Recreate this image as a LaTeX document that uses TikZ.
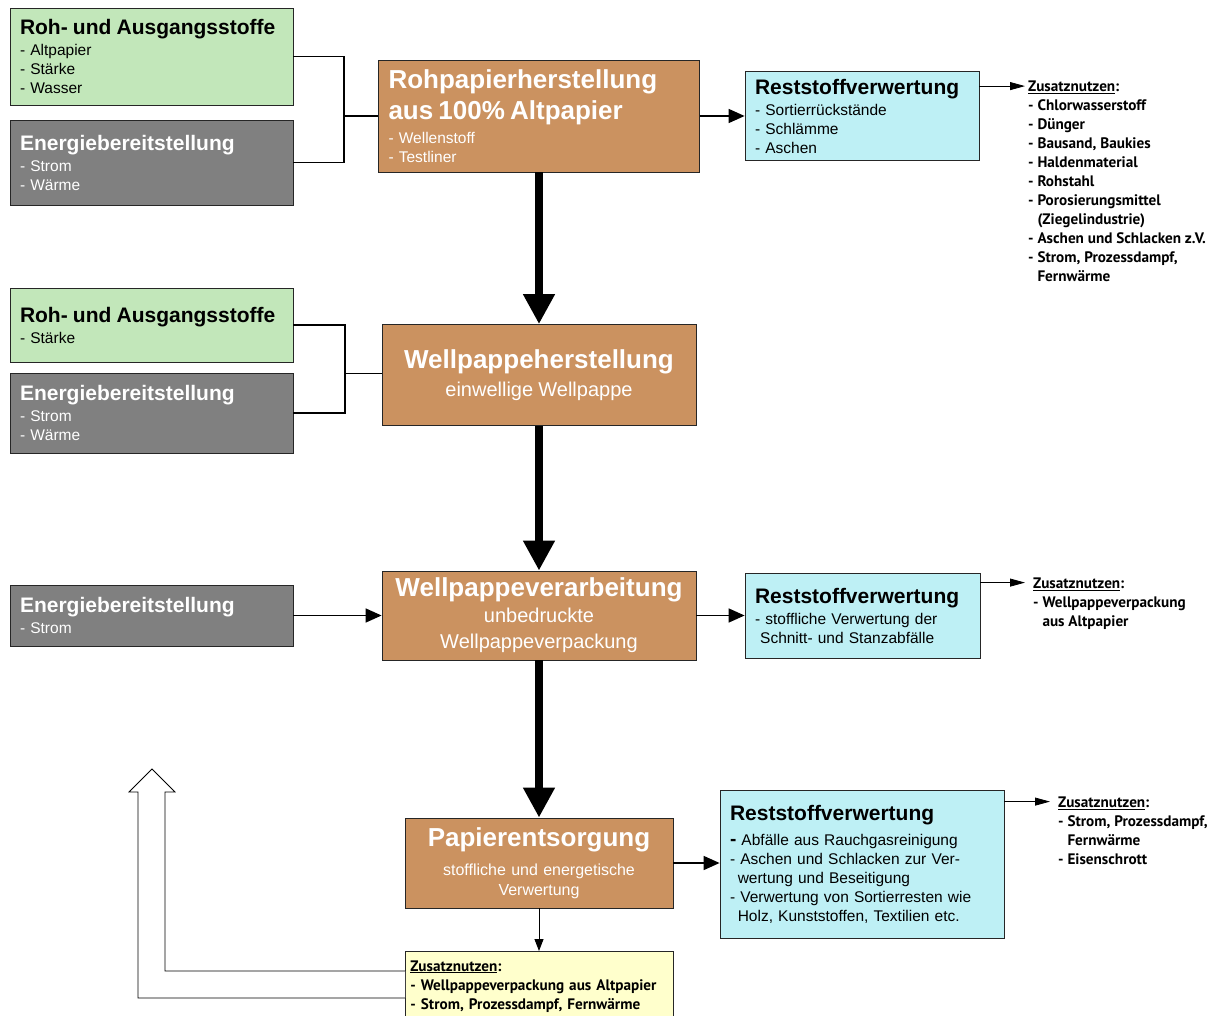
\documentclass[tikz,border=0pt]{standalone}
\usepackage{fontspec}
\setmainfont{Liberation Sans}
\newfontfamily\zusfont{PT Sans}
\usetikzlibrary{arrows.meta}
\usepackage{xcolor}
\definecolor{rohgreen}{RGB}{194,231,186}
\definecolor{energygray}{RGB}{128,128,128}
\definecolor{prozbrown}{RGB}{203,146,96}
\definecolor{restcyan}{RGB}{190,240,245}
\definecolor{zusyellow}{RGB}{255,255,204}
\newcommand{\boxhead}{\fontsize{21}{25}\selectfont\bfseries}
\newcommand{\prozhead}{\fontsize{26}{32}\selectfont\bfseries}

\begin{document}
\begin{tikzpicture}[x=1pt,y=-1pt]
\useasboundingbox (0,0) rectangle (1219,1016);
\clip (0,0) rectangle (1219,1016);

\tikzstyle{pbox}=[draw=black!85,line width=0.8pt,inner xsep=10pt,inner ysep=0pt,align=left,font=\fontsize{15.5}{19}\selectfont]
\tikzstyle{rohbox}=[pbox,fill=rohgreen]
\tikzstyle{energybox}=[pbox,fill=energygray,text=white]
\tikzstyle{prozbox}=[pbox,fill=prozbrown,text=white]
\tikzstyle{restbox}=[pbox,fill=restcyan]
\tikzstyle{zustext}=[inner sep=0pt,anchor=north west,align=left,font=\zusfont\bfseries\fontsize{15.2}{19}\selectfont]

% Rohpapier
\node[rohbox,text width=263pt,minimum height=97pt] (roh1) at (151.5,56.5)
  {{\boxhead Roh- und Ausgangsstoffe}\\[2pt] - Altpapier\\ - Stärke\\ - Wasser};
\node[energybox,text width=263pt,minimum height=85pt] (en1) at (151.5,162.5)
  {{\boxhead Energiebereitstellung}\\[2pt] - Strom\\ - Wärme};
\node[prozbox,text width=301pt,minimum height=112pt] (rohpap) at (539,116)
  {{\prozhead Rohpapierherstellung\\[6pt]aus 100\% Altpapier}\\[5pt] - Wellenstoff\\ - Testliner};
\node[restbox,text width=214pt,minimum height=89pt] (rest1) at (862,116)
  {{\boxhead Reststoffverwertung}\\[2pt] - Sortierrückstände\\ - Schlämme\\ - Aschen};
\node[zustext] (zus1) at (1028,81)
  {\underline{Zusatznutzen}:\\ - Chlorwasserstoff\\ - Dünger\\ - Bausand, Baukies\\ - Haldenmaterial\\ - Rohstahl\\
   - Porosierungsmittel\\ \phantom{- }(Ziegelindustrie)\\ - Aschen und Schlacken z.V.\\ - Strom, Prozessdampf,\\ \phantom{- }Fernwärme};

% Wellpappe
\node[rohbox,text width=263pt,minimum height=74pt] (roh2) at (151.5,325)
  {{\boxhead Roh- und Ausgangsstoffe}\\[2pt] - Stärke};
\node[energybox,text width=263pt,minimum height=80pt] (en2) at (151.5,413)
  {{\boxhead Energiebereitstellung}\\[2pt] - Strom\\ - Wärme};
\node[prozbox,align=center,text width=294pt,minimum height=101pt] (wellher) at (539,375)
  {{\prozhead Wellpappeherstellung}\\[7pt] {\fontsize{20}{24}\selectfont einwellige Wellpappe}};

% Verarbeitung
\node[energybox,text width=263pt,minimum height=61pt] (en3) at (151.5,615.5)
  {{\boxhead Energiebereitstellung}\\[2pt] - Strom};
\node[prozbox,align=center,text width=294pt,minimum height=89pt,font=\fontsize{20}{26}\selectfont] (wellver) at (539,615.5)
  {{\prozhead Wellpappeverarbeitung}\\[0pt] unbedruckte\\ Wellpappeverpackung};
\node[restbox,text width=215pt,minimum height=85pt] (rest2) at (862.5,615.5)
  {{\boxhead Reststoffverwertung}\\[2pt] - stoffliche Verwertung der\\ \ Schnitt- und Stanzabfälle};
\node[zustext] (zus2) at (1033,578)
  {\underline{Zusatznutzen}:\\ - Wellpappeverpackung\\ \phantom{- }aus Altpapier};

% Entsorgung
\node[prozbox,align=center,text width=248pt,minimum height=90pt,font=\fontsize{16}{20}\selectfont] (entsorg) at (539,863)
  {{\prozhead Papierentsorgung}\\[9pt] stoffliche und energetische\\ Verwertung};
\node[restbox,text width=264pt,minimum height=148pt] (rest3) at (862,864)
  {{\boxhead Reststoffverwertung}\\[6pt] {\fontsize{19}{19}\selectfont\bfseries -} Abfälle aus Rauchgasreinigung\\ - Aschen und Schlacken zur Ver-\\
   \ \,wertung und Beseitigung\\ - Verwertung von Sortierresten wie\\ \ \,Holz, Kunststoffen, Textilien etc.};
\node[zustext] (zus3) at (1058,797)
  {\underline{Zusatznutzen}:\\ - Strom, Prozessdampf,\\ \phantom{- }Fernwärme\\ - Eisenschrott};
\node[draw=black!85,line width=0.8pt,fill=zusyellow,anchor=north west,inner xsep=5pt,inner ysep=9pt,
  text width=258pt,align=left,font=\zusfont\bfseries\fontsize{15.2}{19}\selectfont] (zus4) at (405,951)
  {\underline{Zusatznutzen}:\\ - Wellpappeverpackung aus Altpapier\\ - Strom, Prozessdampf, Fernwärme};

% Verbindungen
\coordinate (j1) at (344,116);
\coordinate (j2) at (345,373.5);
\draw[line width=1.6pt] (roh1.east) -| (j1) |- (en1.east);
\draw[line width=1.6pt] (j1) -- (rohpap.west);
\draw[line width=1.6pt] (roh2.east) -| (j2) |- (en2.east);
\draw[line width=1.6pt] (j2) -- (j2 -| wellher.west);

\draw[line width=8pt,-{Triangle[length=30pt,width=30pt]}] (rohpap.south) -- (wellher.north);
\draw[line width=8pt,-{Triangle[length=30pt,width=30pt]}] (wellher.south) -- (wellver.north);
\draw[line width=8pt,-{Triangle[length=30pt,width=30pt]}] (wellver.south) -- (entsorg.north);

\draw[line width=1.6pt,-{Triangle[length=16pt,width=14pt]}] (rohpap.east) -- (rest1.west);
\draw[line width=1.6pt,-{Triangle[length=16pt,width=14pt]}] (en3.east) -- (wellver.west);
\draw[line width=1.6pt,-{Triangle[length=16pt,width=14pt]}] (wellver.east) -- (rest2.west);
\draw[line width=1.6pt,-{Triangle[length=16pt,width=14pt]}] (entsorg.east) -- (entsorg.east -| rest3.west);
\draw[line width=1pt,-{Triangle[length=12pt,width=9pt]}] (entsorg.south) -- (entsorg.south |- zus4.north);

\coordinate (r1out) at ([yshift=-15pt]rest1.north east);
\coordinate (r2out) at ([yshift=-10pt]rest2.north east);
\coordinate (r3out) at ([yshift=-12pt]rest3.north east);
\draw[line width=0.8pt,-{Triangle[length=15pt,width=8pt]}] (r1out) -- ([xshift=-3pt]r1out -| zus1.west);
\draw[line width=0.8pt,-{Triangle[length=15pt,width=8pt]}] (r2out) -- ([xshift=-8pt]r2out -| zus2.west);
\draw[line width=0.8pt,-{Triangle[length=15pt,width=8pt]}] (r3out) -- ([xshift=-8pt]r3out -| zus3.west);

% Rueckfuehrung
\draw[line width=0.8pt,fill=white] ([yshift=-20pt]zus4.north west) -| (165,792) -- (175,792) -- (152,769)
  -- (129,792) -- (138,792) |- ([yshift=-47pt]zus4.north west);
\end{tikzpicture}
\end{document}
